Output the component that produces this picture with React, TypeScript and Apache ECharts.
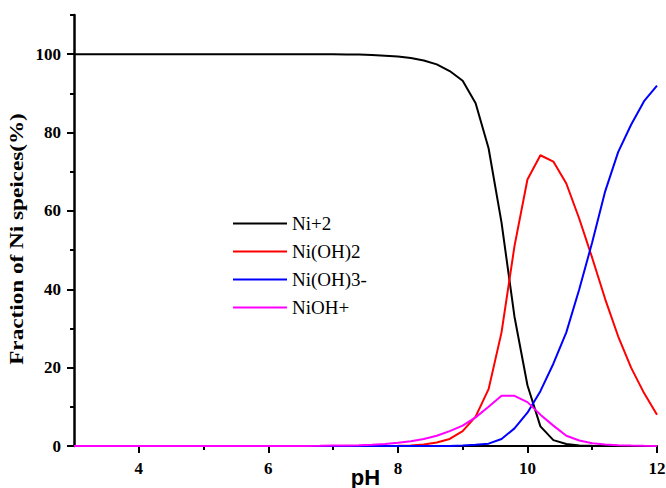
import React, { useEffect, useRef, useState } from "react";
import * as echarts from "echarts";

const pH = [
  3.0, 3.2, 3.4, 3.6, 3.8, 4.0, 4.2, 4.4, 4.6, 4.8,
  5.0, 5.2, 5.4, 5.6, 5.8, 6.0, 6.2, 6.4, 6.6, 6.8,
  7.0, 7.2, 7.4, 7.6, 7.8, 8.0, 8.2, 8.4, 8.6, 8.8,
  9.0, 9.2, 9.4, 9.6, 9.8, 10.0, 10.2, 10.4, 10.6, 10.8,
  11.0, 11.2, 11.4, 11.6, 11.8, 12.0,
];

const ni2 = [
  100, 100, 100, 100, 100, 100, 100, 100, 100, 100,
  100, 100, 100, 100, 100, 100, 100, 100, 100, 100,
  100, 99.9, 99.9, 99.8, 99.6, 99.4, 99.0, 98.4, 97.4, 95.7,
  93.2, 87.5, 76, 57, 33, 15.5, 5, 1.5, 0.5, 0.15,
  0.05, 0, 0, 0, 0, 0,
];

const niOH2 = [
  0, 0, 0, 0, 0, 0, 0, 0, 0, 0,
  0, 0, 0, 0, 0, 0, 0, 0, 0, 0,
  0, 0, 0, 0, 0.02, 0.05, 0.15, 0.4, 0.9, 1.8,
  3.8, 7.5, 14.5, 29, 51, 68, 74.2, 72.6, 67, 58,
  48, 37.5, 28, 20, 13.5, 8,
];

const niOH3 = [
  0, 0, 0, 0, 0, 0, 0, 0, 0, 0,
  0, 0, 0, 0, 0, 0, 0, 0, 0, 0,
  0, 0, 0, 0, 0, 0, 0, 0, 0, 0.03,
  0.1, 0.3, 0.6, 1.8, 4.5, 8.5, 14, 21, 29, 40,
  52, 65, 75, 82, 88, 92,
];

const niOH = [
  0, 0, 0, 0, 0, 0, 0, 0, 0, 0,
  0, 0, 0, 0, 0, 0, 0, 0.02, 0.03, 0.05,
  0.1, 0.13, 0.2, 0.3, 0.5, 0.8, 1.2, 1.8, 2.6, 3.8,
  5.2, 7.3, 10.0, 12.8, 12.8, 11.2, 8, 5.2, 2.6, 1.4,
  0.7, 0.4, 0.2, 0.1, 0.05, 0.02,
];

const seriesNames = ["Ni+2", "Ni(OH)2", "Ni(OH)3-", "NiOH+"];
const seriesColors = ["#000000", "#ff0000", "#0000ff", "#ff00ff"];
const xLabelValues = [4, 6, 8, 10, 12];
const xMinorValues = [5, 7, 9, 11];
const yLabelValues = [0, 20, 40, 60, 80, 100];
const yMinorValues = [10, 30, 50, 70, 90, 110];

function buildOption() {
  const all = [ni2, niOH2, niOH3, niOH];
  const serif = "Liberation Serif";
  const labelStyle = {
    color: "#000",
    fontFamily: serif,
    fontWeight: "bold" as const,
    fontSize: 17,
  };
  return {
    animation: false,
    backgroundColor: "#ffffff",
    grid: {
      left: 74,
      right: 9,
      top: 15,
      bottom: 42,
      containLabel: false,
      outerBoundsMode: "none",
    },
    legend: {
      orient: "vertical",
      left: 228,
      top: 209,
      icon: "rect",
      itemWidth: 54,
      itemHeight: 2,
      itemGap: 9,
      data: seriesNames,
      textStyle: { color: "#000", fontFamily: serif, fontSize: 19 },
    },
    xAxis: [
      {
        type: "value",
        min: 3,
        max: 12,
        interval: 1,
        name: "pH",
        nameLocation: "middle",
        nameGap: 20,
        nameMoveOverlap: false,
        nameTextStyle: {
          color: "#000",
          fontFamily: "Liberation Sans",
          fontWeight: "bold",
          fontSize: 22,
        },
        axisLine: { show: true, lineStyle: { color: "#000", width: 2 } },
        axisTick: {
          show: true,
          customValues: xLabelValues,
          length: 7,
          lineStyle: { color: "#000", width: 2 },
        },
        axisLabel: { ...labelStyle, customValues: xLabelValues, margin: 14 },
        splitLine: { show: false },
      },
      {
        type: "value",
        min: 3,
        max: 12,
        interval: 1,
        position: "bottom",
        axisLine: { show: false },
        axisTick: {
          show: true,
          customValues: xMinorValues,
          length: 4,
          lineStyle: { color: "#000", width: 2 },
        },
        axisLabel: { show: false },
        splitLine: { show: false },
      },
    ],
    yAxis: [
      {
        type: "value",
        min: 0,
        max: 110,
        interval: 10,
        axisLine: { show: true, lineStyle: { color: "#000", width: 2.5 } },
        axisTick: {
          show: true,
          customValues: yLabelValues,
          length: 7,
          lineStyle: { color: "#000", width: 2 },
        },
        axisLabel: { ...labelStyle, customValues: yLabelValues, margin: 13 },
        splitLine: { show: false },
      },
      {
        type: "value",
        min: 0,
        max: 110,
        interval: 10,
        position: "left",
        axisLine: { show: false },
        axisTick: {
          show: true,
          customValues: yMinorValues,
          length: 4,
          lineStyle: { color: "#000", width: 2 },
        },
        axisLabel: { show: false },
        splitLine: { show: false },
      },
    ],
    graphic: [
      {
        type: "text",
        x: 17,
        y: 239,
        rotation: Math.PI / 2,
        scaleX: 1.22,
        style: {
          text: "Fraction of Ni speices(%)",
          fill: "#000",
          fontFamily: serif,
          fontWeight: "bold",
          fontSize: 19,
          align: "center",
          verticalAlign: "middle",
        },
      },
    ],
    series: seriesNames.map((name, i) => ({
      name,
      type: "line",
      xAxisIndex: 0,
      yAxisIndex: 0,
      symbol: "none",
      smooth: false,
      color: seriesColors[i],
      lineStyle: { color: seriesColors[i], width: 2 },
      data: pH.map((x, j) => [x, all[i][j]]),
    })),
  };
}

export default function App() {
  const ref = useRef<HTMLDivElement>(null);
  const [tick, setTick] = useState(0);
  useEffect(() => {
    document.body.style.margin = "0";
    const el = ref.current;
    if (!el) return;
    const option = buildOption();
    let chart = echarts.init(el, null, { renderer: "svg" });
    chart.setOption(option);
    let alive = true;
    const rebuild = () => {
      if (!alive) return;
      chart.dispose();
      chart = echarts.init(el, null, { renderer: "svg" });
      chart.setOption(option);
      setTick((n) => n + 1);
    };
    const fonts = (document as any).fonts;
    if (fonts && fonts.load) {
      Promise.all([
        fonts.load('bold 17px "Liberation Serif"'),
        fonts.load('19px "Liberation Serif"'),
        fonts.load('bold 22px "Liberation Sans"'),
      ])
        .then(rebuild)
        .catch(() => {});
    }
    const t = setTimeout(rebuild, 150);
    setTick((n) => n + 1);
    return () => {
      alive = false;
      clearTimeout(t);
      chart.dispose();
    };
  }, []);
  return (
    <div style={{ position: "relative" }}>
      <div ref={ref} style={{ width: 666, height: 488 }} />
      <div
        aria-hidden="true"
        style={{
          position: "absolute",
          left: -2000,
          top: 0,
          fontFamily: "Liberation Serif",
          fontSize: 19,
          color: "#fff",
        }}
      >
        <span>Ni(OH)2 {tick}</span>
        <b>100</b>
      </div>
    </div>
  );
}
